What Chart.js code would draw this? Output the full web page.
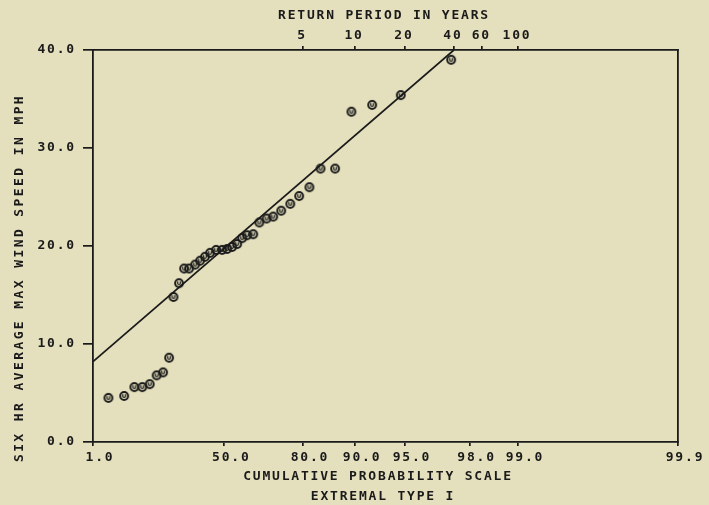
<!DOCTYPE html>
<html>
<head>
<meta charset="utf-8">
<script src="https://cdn.jsdelivr.net/npm/chart.js@4.4.0/dist/chart.umd.min.js"></script>
<style>
  html, body { margin: 0; padding: 0; background: #e4dfbd; }
  canvas { display: block; }
</style>
</head>
<body>
<canvas id="chart" width="709" height="505"></canvas>
<script>
// cumulative probability (%) and wind speed (mph) of each plotted point
const probPct = [2.5, 5.3, 7.9, 10.4, 13.1, 15.9, 18.7, 21.5, 23.6, 26.4,
                 29.0, 31.6, 34.8, 37.4, 40.0, 42.7, 45.8, 48.9, 51.4, 53.8,
                 56.2, 58.5, 60.7, 63.3, 65.8, 68.6, 71.0, 73.7, 76.5, 79.0,
                 81.6, 84.1, 86.9, 89.5, 92.1, 94.7, 97.4];
const windMph = [4.5, 4.7, 5.6, 5.6, 5.9, 6.8, 7.1, 8.6, 14.8, 16.2,
                 17.7, 17.7, 18.1, 18.5, 18.9, 19.3, 19.6, 19.6, 19.7, 19.9,
                 20.2, 20.8, 21.1, 21.2, 22.4, 22.8, 23.0, 23.6, 24.3, 25.1,
                 26.0, 27.9, 27.9, 33.7, 34.4, 35.4, 39.0];

// fitted line end points
const fitP = [1.0, 97.5];
const fitMph = [8.2, 40.0];

// axis ticks
const probTicks = [1.0, 50.0, 80.0, 90.0, 95.0, 98.0, 99.0, 99.9];
const returnYears = [5, 10, 20, 40, 60, 100];
const mphTicks = [0, 10, 20, 30, 40];

const INK = '#1a1a1a';
const BG = '#e4dfbd';
const FONT = '"DejaVu Sans Mono", monospace';

// extremal type I (Gumbel) reduced variate
const gumbel = p => -Math.log(-Math.log(p / 100));

function markerImage() {
    const c = document.createElement('canvas');
    c.width = 12; c.height = 12;
    const g = c.getContext('2d');
    g.strokeStyle = INK;
    g.lineWidth = 2;
    g.beginPath(); g.arc(6, 6, 3.9, 0, Math.PI * 2); g.stroke();
    g.lineWidth = 1.2;
    g.beginPath();
    g.moveTo(4.7, 4.2); g.lineTo(4.7, 6.3);
    g.quadraticCurveTo(4.7, 7.4, 6, 7.4);
    g.quadraticCurveTo(7.3, 7.4, 7.3, 6.3);
    g.lineTo(7.3, 4.2);
    g.stroke();
    return c;
}

// background, letter spacing and the axis titles
const plotText = {
    id: 'plotText',
    beforeLayout(chart) { chart.ctx.letterSpacing = '1.8px'; },
    beforeDraw(chart) {
        const ctx = chart.ctx;
        ctx.save();
        ctx.fillStyle = BG;
        ctx.fillRect(0, 0, chart.width, chart.height);
        ctx.restore();
        ctx.letterSpacing = '1.8px';
    },
    afterDraw(chart) {
        const ctx = chart.ctx;
        ctx.save();
        ctx.fillStyle = INK;
        ctx.font = 'bold 13px ' + FONT;
        ctx.textAlign = 'center';
        ctx.textBaseline = 'middle';
        ctx.letterSpacing = '1.8px';
        ctx.fillText('RETURN PERIOD IN YEARS', 384, 16);
        ctx.fillText('CUMULATIVE PROBABILITY SCALE', 378, 477);
        ctx.fillText('EXTREMAL TYPE I', 383, 497);
        ctx.translate(20, 278);
        ctx.rotate(-Math.PI / 2);
        ctx.letterSpacing = '2.4px';
        ctx.fillText('SIX HR AVERAGE MAX WIND SPEED IN MPH', 0, 0);
        ctx.restore();
    }
};

const tickFont = { family: FONT, size: 13, weight: 'bold' };
const xMin = gumbel(probTicks[0]);
const xMax = gumbel(probTicks[probTicks.length - 1]);

new Chart(document.getElementById('chart'), {
    type: 'scatter',
    data: {
        datasets: [{
            data: probPct.map((p, i) => ({ x: gumbel(p), y: windMph[i] })),
            pointStyle: markerImage(),
            pointRadius: 5,
            showLine: false
        }, {
            data: fitP.map((p, i) => ({ x: gumbel(p), y: fitMph[i] })),
            showLine: true,
            borderColor: INK,
            borderWidth: 1.7,
            pointRadius: 0,
            fill: false
        }]
    },
    options: {
        responsive: false,
        devicePixelRatio: 1,
        animation: false,
        layout: { padding: 0 },
        plugins: { legend: { display: false }, tooltip: { enabled: false } },
        scales: {
            x: {
                type: 'linear', position: 'bottom', min: xMin, max: xMax,
                afterBuildTicks: s => { s.ticks = probTicks.map(p => ({ value: gumbel(p) })); },
                afterFit: s => { s.height = 63; },
                grid: { drawOnChartArea: false, tickLength: 4, color: INK, lineWidth: 1.7 },
                border: { color: INK, width: 1.8 },
                ticks: {
                    autoSkip: false, maxRotation: 0, padding: 4, labelOffset: 7,
                    color: INK, font: tickFont,
                    callback: (v, i) => probTicks[i].toFixed(1)
                }
            },
            x2: {
                type: 'linear', position: 'top', min: xMin, max: xMax,
                afterBuildTicks: s => { s.ticks = returnYears.map(t => ({ value: gumbel(100 * (1 - 1 / t)) })); },
                afterFit: s => { s.height = 50; },
                grid: { drawOnChartArea: false, tickLength: 4, color: INK, lineWidth: 1.7 },
                border: { color: INK, width: 1.8 },
                ticks: {
                    autoSkip: false, maxRotation: 0, padding: 3, labelOffset: -1,
                    color: INK, font: tickFont,
                    callback: (v, i) => String(returnYears[i])
                }
            },
            y: {
                position: 'left', min: 0, max: 40,
                afterBuildTicks: s => { s.ticks = mphTicks.map(v => ({ value: v })); },
                afterFit: s => { s.width = 93; },
                grid: { drawOnChartArea: false, tickLength: 10, color: INK, lineWidth: 1.7 },
                border: { color: INK, width: 1.8 },
                ticks: { padding: 7, color: INK, font: tickFont, callback: v => v.toFixed(1) }
            },
            y2: {
                position: 'right', min: 0, max: 40,
                afterFit: s => { s.width = 31; },
                grid: { display: false },
                border: { color: INK, width: 1.8 },
                ticks: { display: false }
            }
        }
    },
    plugins: [plotText]
});
</script>
</body>
</html>
